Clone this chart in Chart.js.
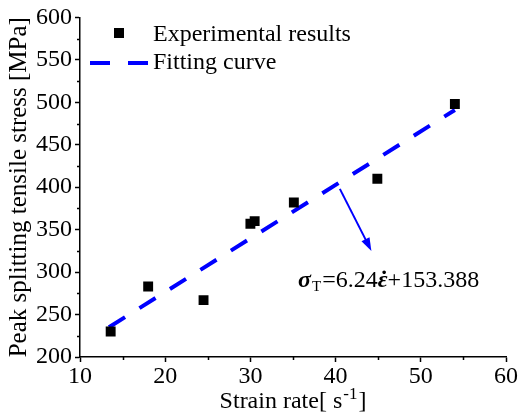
<!DOCTYPE html>
<html>
<head>
<meta charset="utf-8">
<script src="https://cdn.jsdelivr.net/npm/chart.js@4/dist/chart.umd.min.js"></script>
<style>
    html, body { margin: 0; padding: 0; background: #ffffff; }
    #wrap { width: 518px; height: 414px; position: relative; }
</style>
</head>
<body>
<div id="wrap"><canvas id="chart"></canvas></div>
<script>
// data
const strainRate = [13.6, 18.0, 24.5, 30.0, 30.5, 35.1, 44.9, 54.0];
const peakStress = [230, 283, 267, 357, 360, 382, 410, 498];

// fitted line end points
const fitRate = [13.4, 54.0];
const fitStress = [235, 491];

// annotation arrow (tail, head) and equation anchor, in data units
const arrowRate = [40.5, 44.2];
const arrowStress = [398, 325];
const eqAnchor = [35.6, 283];

const xTicks = [10, 20, 30, 40, 50, 60];
const yTicks = [200, 250, 300, 350, 400, 450, 500, 550, 600];
const xMinor = [15, 25, 35, 45, 55];
const yMinor = [225, 275, 325, 375, 425, 475, 525, 575];

const serif = "'Liberation Serif', 'Times New Roman', serif";
const blue = "#0000ff";

let scatterPts = strainRate.map((v, i) => ({ x: v, y: peakStress[i] }));
let fitPts = fitRate.map((v, i) => ({ x: v, y: fitStress[i] }));

// minor ticks, legend, x title, arrow and equation
const extras = {
    id: "extras",
    afterDraw(chart) {
        const ctx = chart.ctx;
        const xs = chart.scales.x;
        const ys = chart.scales.y;
        const area = chart.chartArea;

        ctx.save();
        ctx.strokeStyle = "#000000";
        ctx.lineWidth = 1.5;
        ctx.beginPath();
        for (let v of xMinor) {
            let px = Math.round(xs.getPixelForValue(v)) + 0.5;
            ctx.moveTo(px, area.bottom);
            ctx.lineTo(px, area.bottom + 3);
        }
        for (let v of yMinor) {
            let py = Math.round(ys.getPixelForValue(v)) + 0.5;
            ctx.moveTo(area.left - 3, py);
            ctx.lineTo(area.left, py);
        }
        ctx.stroke();

        // legend
        ctx.fillStyle = "#000000";
        ctx.fillRect(114, 28, 10, 10);
        ctx.font = "24px " + serif;
        ctx.textBaseline = "middle";
        ctx.textAlign = "left";
        ctx.fillText("Experimental results", 153, 35);
        ctx.fillText("Fitting curve", 153, 63);
        ctx.strokeStyle = blue;
        ctx.lineWidth = 4;
        ctx.setLineDash([20, 18]);
        ctx.beginPath();
        ctx.moveTo(90, 63);
        ctx.lineTo(148, 63);
        ctx.stroke();
        ctx.setLineDash([]);

        // x axis title with superscript
        ctx.fillStyle = "#000000";
        ctx.textBaseline = "alphabetic";
        let base = 408;
        let main = "Strain rate[ s";
        ctx.font = "24px " + serif;
        let w1 = ctx.measureText(main).width;
        ctx.font = "17px " + serif;
        let w2 = ctx.measureText("-1").width;
        ctx.font = "24px " + serif;
        let w3 = ctx.measureText("]").width;
        let x0 = 293 - (w1 + w2 + w3 + 2) / 2;
        ctx.fillText(main, x0, base);
        ctx.font = "17px " + serif;
        ctx.fillText("-1", x0 + w1 + 1, base - 9);
        ctx.font = "24px " + serif;
        ctx.fillText("]", x0 + w1 + w2 + 2, base);

        // arrow
        let ax0 = xs.getPixelForValue(arrowRate[0]);
        let ay0 = ys.getPixelForValue(arrowStress[0]);
        let ax1 = xs.getPixelForValue(arrowRate[1]);
        let ay1 = ys.getPixelForValue(arrowStress[1]);
        let ang = Math.atan2(ay1 - ay0, ax1 - ax0);
        let headLen = 13;
        ctx.strokeStyle = blue;
        ctx.fillStyle = blue;
        ctx.lineWidth = 2;
        ctx.beginPath();
        ctx.moveTo(ax0, ay0);
        ctx.lineTo(ax1 - headLen * 0.8 * Math.cos(ang), ay1 - headLen * 0.8 * Math.sin(ang));
        ctx.stroke();
        ctx.beginPath();
        ctx.moveTo(ax1, ay1);
        ctx.lineTo(ax1 - headLen * Math.cos(ang) + 4.5 * Math.sin(ang), ay1 - headLen * Math.sin(ang) - 4.5 * Math.cos(ang));
        ctx.lineTo(ax1 - headLen * Math.cos(ang) - 4.5 * Math.sin(ang), ay1 - headLen * Math.sin(ang) + 4.5 * Math.cos(ang));
        ctx.closePath();
        ctx.fill();

        // equation
        let ex = xs.getPixelForValue(eqAnchor[0]);
        let ey = ys.getPixelForValue(eqAnchor[1]);
        ctx.fillStyle = "#000000";
        ctx.font = "bold italic 24px " + serif;
        ctx.fillText("\u03c3", ex, ey);
        ex += ctx.measureText("\u03c3").width + 1;
        ctx.font = "15px " + serif;
        ctx.fillText("T", ex, ey + 4);
        ex += ctx.measureText("T").width + 1;
        ctx.font = "24px " + serif;
        ctx.fillText("=6.24", ex, ey);
        ex += ctx.measureText("=6.24").width;
        ctx.font = "bold italic 24px " + serif;
        let we = ctx.measureText("\u03b5").width;
        ctx.fillText("\u03b5", ex, ey);
        ctx.fillText("\u02d9", ex + 1, ey);
        ex += we;
        ctx.font = "24px " + serif;
        ctx.fillText("+153.388", ex, ey);
        ctx.restore();
    }
};

const ctx = document.getElementById("chart").getContext("2d");

let chart = new Chart(ctx, {
    type: "scatter",
    data: {
        datasets: [
            {
                label: "Experimental results",
                data: scatterPts,
                pointStyle: "rect",
                pointRadius: 7,
                pointHoverRadius: 7,
                backgroundColor: "#000000",
                borderColor: "#000000",
                borderWidth: 0,
                order: 1
            },
            {
                label: "Fitting curve",
                type: "line",
                data: fitPts,
                showLine: true,
                borderColor: blue,
                borderWidth: 4,
                borderDash: [19, 17],
                borderCapStyle: "butt",
                pointRadius: 0,
                fill: false,
                order: 2
            }
        ]
    },
    options: {
        responsive: true,
        maintainAspectRatio: false,
        animation: false,
        layout: { padding: { top: 14, right: 11, left: 0, bottom: 0 } },
        plugins: {
            legend: { display: false },
            tooltip: { enabled: false }
        },
        scales: {
            x: {
                type: "linear",
                min: 10,
                max: 60,
                afterBuildTicks: (axis) => { axis.ticks = xTicks.map(v => ({ value: v })); },
                afterFit: (axis) => { axis.height = 57; },
                ticks: {
                    color: "#000000",
                    font: { family: serif, size: 24 },
                    padding: 0,
                    maxRotation: 0
                },
                grid: {
                    drawOnChartArea: false,
                    drawTicks: true,
                    tickLength: 5,
                    tickColor: "#000000",
                    tickWidth: 1.5
                },
                border: { color: "#000000", width: 1.5 }
            },
            y: {
                type: "linear",
                min: 200,
                max: 600,
                afterBuildTicks: (axis) => { axis.ticks = yTicks.map(v => ({ value: v })); },
                afterFit: (axis) => { axis.width = 80; },
                ticks: {
                    color: "#000000",
                    font: { family: serif, size: 24 },
                    padding: 3
                },
                grid: {
                    drawOnChartArea: false,
                    drawTicks: true,
                    tickLength: 5,
                    tickColor: "#000000",
                    tickWidth: 1.5
                },
                border: { color: "#000000", width: 1.5 },
                title: {
                    display: true,
                    text: "Peak splitting tensile stress [MPa]",
                    color: "#000000",
                    font: { family: serif, size: 25 },
                    padding: { top: 4, bottom: 0 }
                }
            }
        }
    },
    plugins: [extras]
});
</script>
</body>
</html>
